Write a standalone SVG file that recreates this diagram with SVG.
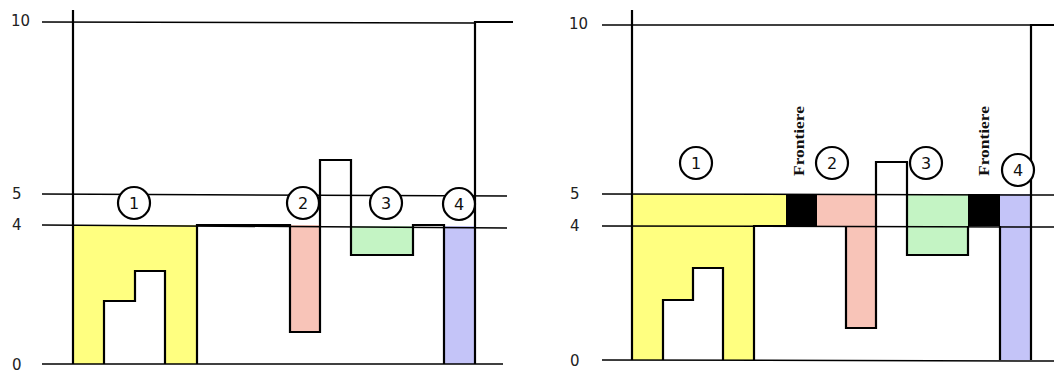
<svg xmlns="http://www.w3.org/2000/svg" width="1054" height="372" viewBox="0 0 1054 372">
<style>
.ax{stroke:#000;stroke-width:1.5;fill:none}
.pr{stroke:#000;stroke-width:2.2;fill:none;stroke-linejoin:miter}
.lbl{font-family:"DejaVu Sans",sans-serif;font-size:15px;fill:#222}
.num{font-family:"DejaVu Sans",sans-serif;font-size:16px;fill:#111;text-anchor:middle}
.cir{fill:#fff;stroke:#000;stroke-width:2.2}
.fr{font-family:"Liberation Serif",serif;font-size:14px;font-weight:bold;fill:#111}
.y{fill:#ffff80}.p{fill:#f8c4b8}.g{fill:#c4f4c4}.b{fill:#c4c4f8}
</style>
<rect width="1054" height="372" fill="#fff"/>
<g id="left-panel">
  <g id="left-fills">
    <path class="y" d="M73,225 H197 V364 H165 V271 H135 V301 H104 V364 H73 Z"/>
    <rect class="p" x="290" y="225" width="30" height="107"/>
    <rect class="g" x="351" y="226" width="62" height="29"/>
    <rect class="b" x="444" y="226" width="31" height="138"/>
  </g>
  <g id="left-axes">
    <text class="lbl" x="11" y="26">10</text>
    <text class="lbl" x="12" y="199">5</text>
    <text class="lbl" x="12" y="230">4</text>
    <text class="lbl" x="12" y="370">0</text>
    <line class="ax" x1="42" y1="22" x2="476" y2="23"/>
    <line class="ax" x1="42" y1="194" x2="507" y2="196"/>
    <line class="ax" x1="42" y1="225" x2="507" y2="228"/>
    <line class="ax" x1="42" y1="364" x2="503" y2="364"/>
    <line class="pr" x1="73" y1="10" x2="73" y2="364"/>
  </g>
  <g id="left-profile">
    <path class="pr" d="M104,364 V301 H135 V271 H165 V364"/>
    <path class="pr" d="M197,364 V225 H290 V332 H320 V160 H351 V255 H413 V225 H444 V364"/>
    <path class="pr" d="M475,364 V22 H513"/>
  </g>
  <g id="left-c1"><circle class="cir" cx="134" cy="203" r="16"/><text class="num" x="134" y="209">1</text></g>
  <g id="left-c2"><circle class="cir" cx="303" cy="203" r="16"/><text class="num" x="303" y="209">2</text></g>
  <g id="left-c3"><circle class="cir" cx="386" cy="203" r="16"/><text class="num" x="386" y="209">3</text></g>
  <g id="left-c4"><circle class="cir" cx="459" cy="204" r="16"/><text class="num" x="459" y="210">4</text></g>
</g>
<g id="right-panel">
  <g id="right-fills">
    <path class="y" d="M632,194 H786 V226 H754 V360 H723 V268 H693 V300 H663 V360 H632 Z"/>
    <path class="p" d="M817,194 H876 V328 H846 V226 H817 Z"/>
    <rect class="g" x="907" y="194" width="61" height="61"/>
    <rect class="b" x="1000" y="194" width="31" height="166"/>
    <rect x="786" y="194" width="31" height="32" fill="#000"/>
    <rect x="968" y="194" width="32" height="32" fill="#000"/>
  </g>
  <g id="right-axes">
    <text class="lbl" x="569" y="29">10</text>
    <text class="lbl" x="570" y="199">5</text>
    <text class="lbl" x="570" y="231">4</text>
    <text class="lbl" x="570" y="366">0</text>
    <line class="ax" x1="602" y1="25" x2="1031" y2="25"/>
    <line class="ax" x1="602" y1="194" x2="1054" y2="195"/>
    <line class="ax" x1="602" y1="226" x2="1054" y2="227"/>
    <line class="ax" x1="602" y1="360" x2="1054" y2="361"/>
    <line class="pr" x1="632" y1="10" x2="632" y2="360"/>
  </g>
  <g id="right-profile">
    <path class="pr" d="M663,360 V300 H693 V268 H723 V360"/>
    <path class="pr" d="M754,360 V226 H786"/>
    <path class="pr" d="M846,226 V328 H876 V162 H907 V255 H968 V226"/>
    <path class="pr" d="M1000,226 V360"/>
    <path class="pr" d="M1031,360 V25 H1054"/>
  </g>
  <text class="fr" transform="translate(804,176) rotate(-90)" textLength="70" lengthAdjust="spacingAndGlyphs">Frontiere</text>
  <text class="fr" transform="translate(989,176) rotate(-90)" textLength="70" lengthAdjust="spacingAndGlyphs">Frontiere</text>
  <g id="right-c1"><circle class="cir" cx="696" cy="163" r="16"/><text class="num" x="696" y="169">1</text></g>
  <g id="right-c2"><circle class="cir" cx="832" cy="163" r="16"/><text class="num" x="832" y="169">2</text></g>
  <g id="right-c3"><circle class="cir" cx="926" cy="163" r="16"/><text class="num" x="926" y="169">3</text></g>
  <g id="right-c4"><circle class="cir" cx="1018" cy="170" r="16"/><text class="num" x="1018" y="176">4</text></g>
</g>
</svg>
